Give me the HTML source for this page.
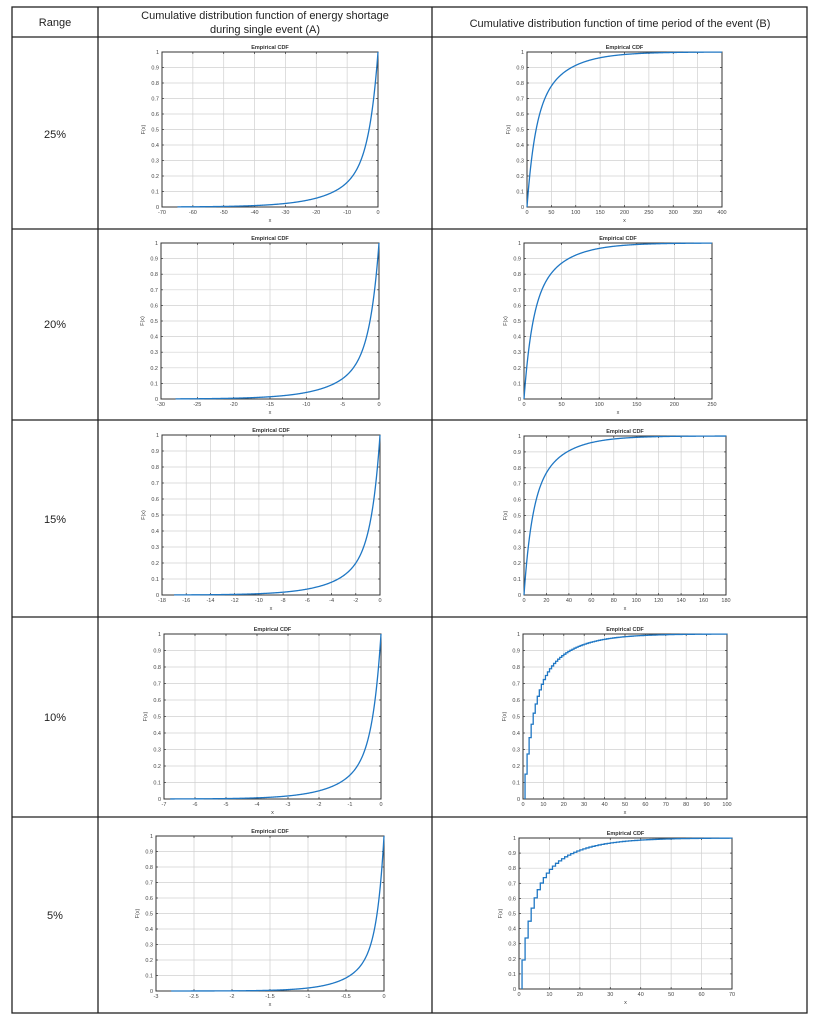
<!DOCTYPE html>
<html><head><meta charset="utf-8"><style>
body{margin:0;background:#fff;width:815px;height:1023px;overflow:hidden;font-family:"Liberation Sans",sans-serif}
svg{position:absolute;left:0;top:0}
</style></head><body>
<svg id="s" width="815" height="1023" xmlns="http://www.w3.org/2000/svg" font-family="Liberation Sans, sans-serif">
<g stroke="#222" stroke-width="1.3" fill="none">
<rect x="12" y="7" width="795" height="1006"/>
<line x1="98" y1="7" x2="98" y2="1013"/><line x1="432" y1="7" x2="432" y2="1013"/>
<line x1="12" y1="37" x2="807" y2="37"/><line x1="12" y1="229" x2="807" y2="229"/>
<line x1="12" y1="420" x2="807" y2="420"/><line x1="12" y1="617" x2="807" y2="617"/>
<line x1="12" y1="817" x2="807" y2="817"/>
</g>
<g font-size="11" fill="#222" text-anchor="middle">
<text x="55" y="26">Range</text>
<text x="265" y="19">Cumulative distribution function of energy shortage</text>
<text x="265" y="33">during single event (A)</text>
<text x="620" y="27">Cumulative distribution function of time period of the event (B)</text>
<text x="55" y="138">25%</text><text x="55" y="328">20%</text><text x="55" y="523">15%</text>
<text x="55" y="721">10%</text><text x="55" y="919">5%</text>
</g>
<g id="plots"></g>
</svg>
<script>
const g=document.getElementById('plots');let h='';
function plot(b,xmin,xmax,step,f,steps,start){
 const [L,R,T,B]=b,W=R-L,H=B-T;const X=v=>L+(v-xmin)/(xmax-xmin)*W,Y=v=>B-v*H;
 for(let i=0;i<=10;i++){const y=Y(i/10);h+=`<line x1="${L}" x2="${R}" y1="${y}" y2="${y}" stroke="#d0d0d0" stroke-width="0.7"/>`;
  h+=`<line x1="${L}" x2="${L+2}" y1="${y}" y2="${y}" stroke="#333" stroke-width="0.7"/><line x1="${R-2}" x2="${R}" y1="${y}" y2="${y}" stroke="#333" stroke-width="0.7"/>`;
  h+=`<text x="${L-3}" y="${y+2}" font-size="5.5" fill="#444" text-anchor="end">${i==0?0:i==10?1:(i/10)}</text>`;}
 const n=Math.round((xmax-xmin)/step);
 for(let i=0;i<=n;i++){const v=+(xmin+i*step).toFixed(2),x=X(v);h+=`<line x1="${x}" x2="${x}" y1="${T}" y2="${B}" stroke="#d0d0d0" stroke-width="0.7"/>`;
  h+=`<line x1="${x}" x2="${x}" y1="${B-2}" y2="${B}" stroke="#333" stroke-width="0.7"/><line x1="${x}" x2="${x}" y1="${T}" y2="${T+2}" stroke="#333" stroke-width="0.7"/>`;
  h+=`<text x="${x}" y="${B+7}" font-size="5.5" fill="#444" text-anchor="middle">${v}</text>`;}
 h+=`<rect x="${L}" y="${T}" width="${W}" height="${H}" fill="none" stroke="#333" stroke-width="1"/>`;
 h+=`<text x="${(L+R)/2}" y="${T-3}" font-size="5.5" font-weight="bold" fill="#333" text-anchor="middle">Empirical CDF</text>`;
 h+=`<text x="${(L+R)/2}" y="${B+15}" font-size="5.5" fill="#444" text-anchor="middle">x</text>`;
 h+=`<text transform="translate(${L-17},${(T+B)/2}) rotate(-90)" font-size="5.5" fill="#444" text-anchor="middle">F(x)</text>`;
 let d='';
 if(steps){let prev=0;d=`M${X(start)},${Y(0)}`;for(let k=start;k<=xmax;k++){const v=f(k);d+=` L${X(k)},${Y(prev)} L${X(k)},${Y(v)}`;prev=v;}d+=` L${X(xmax)},${Y(prev)}`;}
 else{for(let i=0;i<=400;i++){const v=start+(xmax-start)*i/400;d+=(i?' L':'M')+X(v).toFixed(2)+','+Y(Math.min(1,f(v))).toFixed(2);}}
 if(xmax==0&&!steps)d+=` L${X(0)},${Y(1)}`;
 h+=`<path d="${d}" fill="none" stroke="#1f77c4" stroke-width="1.3"/>`;
}
function fa(k){return x=>0.35*Math.exp(x/(11*k))+0.65*Math.exp(x/(2.8*k));}
function fb(k){return x=>x<=0?0:1-0.55*Math.exp(-x/(16*k))-0.45*Math.exp(-x/(60*k));}
plot([162,378,52,207],-70,0,10,fa(1),false,-65);
plot([527,722,52,207],0,400,50,fb(1),false,0);
plot([161,379,243,399],-30,0,5,fa(30/70),false,-28);
plot([524,712,243,399],0,250,50,fb(0.65),false,0);
plot([162,380,435,595],-18,0,2,fa(17/70),false,-17);
plot([524,726,436,595],0,180,20,fb(0.42),false,0);
plot([164,381,634,799],-7,0,1,fa(6.5/70),false,-6.8);
plot([523,727,634,799],0,100,10,fb(0.25),true,1);
plot([156,384,836,991],-3,0,0.5,fa(2.2/70),false,-2.8);
plot([519,732,838,989],0,70,10,fb(0.19),true,1);
g.innerHTML=h;
</script>
</body></html>
